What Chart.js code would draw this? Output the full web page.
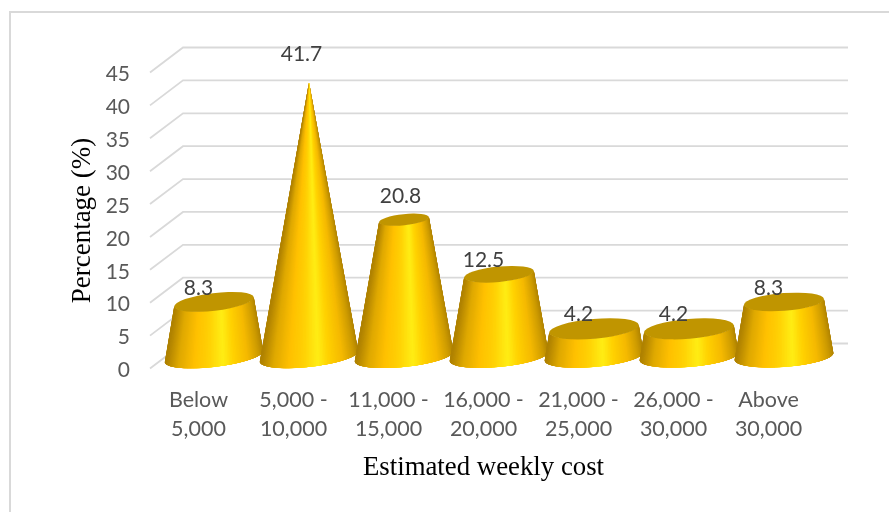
<!DOCTYPE html>
<html>
<head>
<meta charset="utf-8">
<style>
  html, body { margin: 0; padding: 0; background: #fff; overflow: hidden; }
  #frame { position: absolute; left: 9px; top: 11px; width: 890px; height: 510px; border-left: 2px solid #d9d9d9; border-top: 2px solid #d9d9d9; }
  canvas { position: absolute; left: 0; top: 0; }
</style>
<script src="https://cdn.jsdelivr.net/npm/chart.js@4/dist/chart.umd.min.js"></script>
</head>
<body>
<div id="frame"></div>
<canvas id="chart" width="889" height="512"></canvas>
<script>
const categories = [["Below", "5,000"], ["5,000 -", "10,000"], ["11,000 -", "15,000"], ["16,000 -", "20,000"], ["21,000 -", "25,000"], ["26,000 -", "30,000"], ["Above", "30,000"]];
const percentages = [8.3, 41.7, 20.8, 12.5, 4.2, 4.2, 8.3];

// hand placed value labels, dx / dy from the top of each cone
const labelDx = [0, 8, 12, 0, 0, 0, 0];
const labelDy = [-14, -28, -23, -14, -15, -15, -14];

// fake 3d floor depth
const depthX = 33;
const depthY = 25;
const baseRadius = 49.5;

const stops = [
  [0, [175, 130, 0]], [0.1, [222, 168, 0]], [0.25, [255, 192, 0]], [0.4, [255, 210, 5]],
  [0.54, [255, 237, 20]], [0.66, [255, 208, 0]], [0.8, [245, 185, 0]], [0.93, [205, 155, 0]], [1, [175, 130, 0]]
];

function shade(t) {
  for (let i = 1; i < stops.length; i++) {
    if (t <= stops[i][0]) {
      const a = stops[i - 1], b = stops[i];
      const f = (t - a[0]) / (b[0] - a[0]);
      const c = a[1].map((v, k) => Math.round(v + (b[1][k] - v) * f));
      return "rgb(" + c.join(",") + ")";
    }
  }
  return "rgb(175,130,0)";
}

function ellipsePoint(cx, cy, rx, ry, tilt, th) {
  const x = rx * Math.cos(th), y = ry * Math.sin(th);
  return [cx + x * Math.cos(tilt) - y * Math.sin(tilt), cy + x * Math.sin(tilt) + y * Math.cos(tilt)];
}

function drawCone(ctx, x, top, bottom, topR, tilt) {
  const n = 90;
  const baseRy = baseRadius * 0.21;
  const topRy = topR * 0.22;
  // front half of the side, thin strips from right to left
  for (let i = 0; i < n; i++) {
    const a = Math.PI * i / n - 0.08;
    const b = Math.PI * (i + 1) / n + 0.08 + 0.01;
    const p1 = ellipsePoint(x, bottom, baseRadius, baseRy, tilt, a);
    const p2 = ellipsePoint(x, bottom, baseRadius, baseRy, tilt, b);
    const p3 = ellipsePoint(x, top, topR, topRy, tilt, b);
    const p4 = ellipsePoint(x, top, topR, topRy, tilt, a);
    ctx.fillStyle = shade(1 - (1 - Math.cos(Math.PI * (i + 0.5) / n)) / 2);
    ctx.beginPath();
    ctx.moveTo(p1[0], p1[1]);
    ctx.lineTo(p2[0], p2[1]);
    ctx.lineTo(p3[0], p3[1]);
    ctx.lineTo(p4[0], p4[1]);
    ctx.closePath();
    ctx.fill();
  }
  if (topR > 0.5) {
    ctx.fillStyle = "#c09500";
    ctx.beginPath();
    ctx.ellipse(x, top, topR, topRy, tilt, 0, Math.PI * 2);
    ctx.fill();
  }
}

const wallGrid = {
  id: "wallGrid",
  beforeDatasetsDraw(chart) {
    const ctx = chart.ctx, y = chart.scales.y, a = chart.chartArea;
    ctx.save();
    ctx.strokeStyle = "#d9d9d9";
    ctx.lineWidth = 1.8;
    y.ticks.forEach((t, i) => {
      const py = y.getPixelForTick(i);
      ctx.beginPath();
      ctx.moveTo(a.left - 1, py);
      ctx.lineTo(a.left - 1 + depthX, py - depthY);
      ctx.lineTo(a.right + depthX - 1, py - depthY);
      ctx.stroke();
    });
    ctx.restore();
  }
};

const cones = {
  id: "cones",
  afterDatasetsDraw(chart) {
    const ctx = chart.ctx, meta = chart.getDatasetMeta(0);
    const peak = Math.max(...percentages);
    ctx.save();
    meta.data.forEach((bar, i) => {
      const x = bar.x + 15.5;
      const tilt = (-6.8 + 2.6 * i / 6) * Math.PI / 180;
      const topR = 50 * (1 - percentages[i] / peak);
      drawCone(ctx, x, bar.y - 12, bar.base - 12, topR, tilt);
    });
    ctx.font = "21px Lato";
    ctx.fillStyle = "#404040";
    ctx.textAlign = "center";
    ctx.textBaseline = "middle";
    meta.data.forEach((bar, i) => {
      ctx.fillText(percentages[i].toFixed(1), bar.x + labelDx[i], bar.y - 12 + labelDy[i]);
    });
    ctx.restore();
  }
};

new Chart(document.getElementById("chart"), {
  type: "bar",
  data: {
    labels: categories,
    datasets: [{ data: percentages, backgroundColor: "rgba(0,0,0,0)" }]
  },
  plugins: [wallGrid, cones],
  options: {
    responsive: false,
    animation: false,
    layout: { padding: { left: 67, right: 73, top: 72.5, bottom: 28 } },
    plugins: { legend: { display: false }, tooltip: { enabled: false } },
    scales: {
      x: {
        afterFit(s) { s.height = 512 - 368.5 - 28; },
        grid: { display: false },
        border: { display: false },
        ticks: { color: "#595959", font: { family: "Lato", size: 21.5, lineHeight: 1.35 }, padding: 9, maxRotation: 0, autoSkip: false },
        title: { display: true, text: "Estimated weekly cost", color: "#000", font: { family: "Liberation Serif", size: 26.8 }, padding: 0 }
      },
      y: {
        min: 0,
        max: 45,
        afterFit(s) { s.width = 84; },
        grid: { display: false },
        border: { display: false },
        ticks: { stepSize: 5, color: "#595959", font: { family: "Lato", size: 21 }, padding: 13, labelOffset: 2 },
        title: { display: true, text: "Percentage (%)", color: "#000", font: { family: "Liberation Serif", size: 27 }, padding: 0 }
      }
    }
  }
});
</script>
</body>
</html>
